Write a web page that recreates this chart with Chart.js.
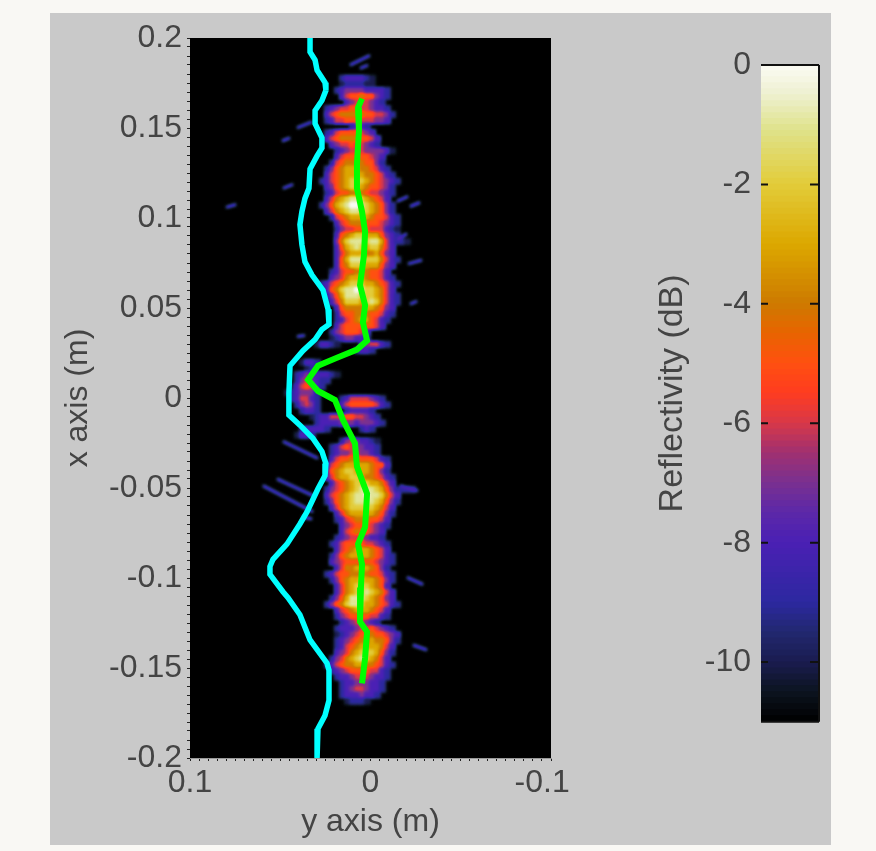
<!DOCTYPE html>
<html><head><meta charset="utf-8">
<script src="https://cdn.jsdelivr.net/npm/chart.js@4"></script>
<style>
html,body{margin:0;padding:0;width:876px;height:851px;overflow:hidden;background:#f9f8f4}
#panel{position:absolute;left:50px;top:13px;width:781px;height:832px;background:#c9c9c9}
#mainWrap{position:absolute;left:50px;top:13px;width:560px;height:832px}
#barWrap{position:absolute;left:640px;top:33px;width:191px;height:710px}
canvas{filter:blur(0.5px)}
</style></head><body>
<div id="panel"></div>
<div id="mainWrap"><canvas id="main"></canvas></div>
<div id="barWrap"><canvas id="bar"></canvas></div>
<script>
const xTickLabels=[0.1,0,-0.1];
const yTickLabels=[0.2,0.15,0.1,0.05,0,-0.05,-0.1,-0.15,-0.2];
const colorTicks=[0,-2,-4,-6,-8,-10];
const cyanX=[.0335,.0335,.0307,.0296,.0252,.0247,.0269,.0307,.0307,.0269,.0269,.0296,.0335,.0341,.0363,.0380,.0391,.0380,.0363,.0324,.0263,.0235,.0230,.0269,.0307,.0374,.0446,.0452,.0452,.0391,.0319,.0269,.0247,.0252,.0291,.0352,.0391,.0463,.0540,.0557,.0557,.0485,.0457,.0391,.0335,.0241,.0230,.0230,.0252,.0291,.0296];
const cyanY=[.2,.1922,.1877,.1821,.1753,.1709,.1653,.1597,.1524,.1445,.1389,.1345,.1272,.1165,.1109,.1036,.0964,.0852,.0756,.0683,.0599,.0493,.0409,.0381,.0325,.0263,.0179,.0028,-.0095,-.0151,-.0224,-.0297,-.0364,-.0431,-.0504,-.0633,-.0700,-.0812,-.0896,-.0936,-.0980,-.1076,-.1109,-.1204,-.1344,-.1473,-.1512,-.1680,-.1764,-.1837,-.2];
const greenX=[.0047,.0069,.0064,.0075,.0075,.0047,.0030,.0036,.0058,.0030,.0042,.0019,.0075,.0186,.0291,.0346,.0291,.0197,.0152,.0086,.0075,.0019,.0030,.0069,.0047,.0053,.0058,.0019,.0030,.0047];
const greenY=[.1663,.1613,.1484,.1300,.1165,.1036,.0924,.0795,.0627,.0515,.0420,.0319,.0269,.0224,.0179,.0101,.0039,-.0011,-.0123,-.0252,-.0381,-.0532,-.0717,-.0812,-.0924,-.1053,-.1243,-.1299,-.1445,-.1585];
const streakX=[.0114,.0003,null,.0058,.0014,null,.0407,.0324,null,.0490,.0446,null,.0485,.0429,null,-.0147,-.0208,null,-.0219,-.0274,null,-.0147,-.0202,null,-.0208,-.0285,null,-.0219,-.0258,null,.0407,.0363,null,.0485,.0291,null,.0518,.0319,null,.0596,.0319,null,.0380,.0324,null,-.0163,-.0263,null,-.0202,-.0291,null,-.0235,-.0313,null,.0800,.0745];
const streakY=[.1849,.1904,null,.1831,.1849,null,.1501,.1534,null,.1428,.1445,null,.1165,.1187,null,.1092,.1120,null,.1064,.1086,null,.0879,.0913,null,.0745,.0767,null,.0521,.0538,null,.0342,.0347,null,-.0241,-.0336,null,-.0449,-.0543,null,-.0487,-.0633,null,-.0661,-.0672,null,-.0487,-.0515,null,-.0997,-.1036,null,-.1372,-.1400,null,.1059,.1075];
// reflectivity: one string per row, one character per column
// '.' = below scale, 1..9,a,b = -10 .. 0 dB
const heatRowTop=0.17759, heatRowStep=0.00336, heatColLeft=0.04598, heatColStep=0.00277;
const streakDb=-7.5;
const heatRows=[
"...........2333321",
"...........1222211",
"..........23444433332",
"...........3566766432",
"............34555432",
"........2345566554332",
"........35677777665542",
"........2355666555443",
".............2332",
"........2356666543",
"........35677776653",
".........3455655432",
"..........234555444431",
"..........3566666543",
".........25677776642",
"........2467888776532",
"........35678888776532",
".......2356789998765432",
"........34678998766542",
"........23566777655432",
"........35789aa987653",
".......24689abba987642",
"........35789aa9987642",
".........25678888766532",
"..........3567776665432",
"..........2455666555321",
"..........3678998886432",
"..........479aaa9aa853221",
"..........3689a9899753",
"..........357888778643",
"..........368aaa9997532",
"..........367999888643",
".........235667776653",
".........3457888766532",
".......2356789998876532",
"........3679aaba998753",
"........2468aaa99987532",
".........35799989a97532",
"..........367777887643",
"..........256677766532",
"..........23567886532",
"..........3566666653",
".........24566653",
".........12344332",
"......13321....345532",
"..............2332",
"",
"...1332",
"....12",
"..234333321",
"..2454322",
".1356532",
"1234442",
".235532....235555432",
"..24542....3566666532",
"...2332.....233332",
".....12335556655432",
"......23333444344432",
"...233332......232",
"..1332",
"...........24543321",
".........2356544332",
".........2344554432",
".........356677666532",
"........2567888887663",
"........3678998887642",
"........35788998776532",
".........3567899988753",
"........2456789aaa98642222",
"........356789aabaa9753",
"........246789aaaa98642",
".........3578999998753",
"..........357888887642",
"..........23567776653",
"...........3456665432",
"...........356776543",
"..........2345554332",
".........235666655432",
"..........35678887653",
".........2467888876532",
".........3456666665432",
"..........35778887642",
"........23566777766532",
".........2467889887642",
"..........35789998763",
"..........357899a98753",
".........2468aaa987643",
"........24679aa98876532",
"..........35678887653",
"..........24566665532",
"...........23455432",
"..........233345565432",
"..........1234566766543",
"..........2345677877642",
"..........235678888753",
"..........345789998642",
".........245789a98753",
"........23567788776532",
".........234566665532",
"..........23345554332",
"...........233444332",
"...........234554332",
"...........23334332",
"............12221"
];
const cmapDb=[-11,-10.5,-10,-9.5,-9,-8,-7.5,-7,-6.5,-6,-5.5,-5,-4.5,-4,-3,-2,-1.1,-0.5,0];
const cmapRgb=[[0,0,0],[12,20,32],[26,28,80],[34,40,112],[44,40,160],[74,32,180],[92,40,168],[122,48,144],[160,48,112],[216,56,72],[255,60,32],[255,80,16],[232,100,0],[205,122,0],[220,168,0],[226,204,58],[223,226,138],[238,240,208],[251,251,245]];
function dbRgb(v){
  let i=0; while(i<cmapDb.length-2&&v>cmapDb[i+1])i++;
  const t=(v-cmapDb[i])/(cmapDb[i+1]-cmapDb[i]);
  return cmapRgb[i].map((a,k)=>Math.round(a+(cmapRgb[i+1][k]-a)*t));
}
function dbColor(v){const c=dbRgb(v);return `rgb(${c[0]},${c[1]},${c[2]})`;}
// the heat cells are painted as grey value codes, smoothed, then looked up in the colour map
function dbGray(v){const g=Math.round((v+11)/11*255);return `rgb(${g},${g},${g})`;}
const lut=[];for(let i=0;i<256;i++)lut.push(dbRgb(-11+i/255*11));
const heatPts=[],heatCols=[];
heatRows.forEach((row,r)=>{[...row].forEach((ch,c)=>{
  if(ch==='.')return;
  const db=parseInt(ch,12)-11;
  heatPts.push({x:heatColLeft-c*heatColStep,y:heatRowTop-r*heatRowStep});
  heatCols.push(dbGray(db));
});});
const zip=(a,b)=>a.map((v,i)=>({x:v,y:b[i]}));
const font={family:"'Liberation Sans',Arial,sans-serif",size:32};
const titleFont={family:"'Liberation Sans',Arial,sans-serif",size:32};
const ink='#444444';
const near=(a,b)=>Math.abs(a-b)<1e-6;

let off=null,offCtx=null;
const plotDecor={id:'plotDecor',
  beforeDatasetsDraw(c){
    const a=c.chartArea,g=c.ctx;g.save();g.fillStyle='#000';g.fillRect(a.left,a.top,a.width,a.height);g.restore();
    off=document.createElement('canvas');off.width=c.width;off.height=c.height;
    offCtx=off.getContext('2d',{willReadFrequently:true});
    offCtx.fillStyle='#000';offCtx.fillRect(0,0,off.width,off.height);
  },
  beforeDatasetDraw(c,args){if(args.index<=1){args.meta.controller._ctx=offCtx;}},
  afterDatasetDraw(c,args){
    if(args.index>1)return;
    args.meta.controller._ctx=c.ctx;
    if(args.index!==1)return;
    const a=c.chartArea,w=Math.ceil(a.width),h=Math.ceil(a.height);
    const tmp=document.createElement('canvas');tmp.width=w;tmp.height=h;
    const t=tmp.getContext('2d',{willReadFrequently:true});
    t.filter='blur(1.4px)';
    t.drawImage(off,-a.left,-a.top);
    t.filter='none';
    const img=t.getImageData(0,0,w,h),d=img.data;
    for(let i=0;i<d.length;i+=4){const col=lut[d[i]];d[i]=col[0];d[i+1]=col[1];d[i+2]=col[2];d[i+3]=255;}
    t.putImageData(img,0,0);
    c.ctx.drawImage(tmp,a.left,a.top);
  }
};
new Chart(document.getElementById('main'),{
  type:'scatter',
  data:{datasets:[
    {label:'reflectivity',data:heatPts,pointStyle:'rect',pointRadius:4.8,pointHoverRadius:4.8,pointBackgroundColor:heatCols,pointBorderWidth:0,showLine:false,order:4},
    {label:'streaks',data:zip(streakX,streakY),showLine:true,spanGaps:false,borderColor:dbGray(streakDb),borderWidth:2.5,pointRadius:0,order:3},
    {label:'cyan',data:zip(cyanX,cyanY),showLine:true,borderColor:'#00ffff',borderWidth:5.5,pointRadius:0,tension:0,order:2},
    {label:'green',data:zip(greenX,greenY),showLine:true,borderColor:'#00ff00',borderWidth:6,pointRadius:0,tension:0,order:1}
  ]},
  options:{responsive:true,maintainAspectRatio:false,animation:false,
    layout:{padding:{left:0,top:25,right:59,bottom:0}},
    plugins:{legend:{display:false},tooltip:{enabled:false}},
    scales:{
      x:{type:'linear',reverse:true,min:-0.1,max:0.1,
        afterFit(s){s.height=87;},
        grid:{drawOnChartArea:false,color:'#222',tickColor:'#222',tickLength:3,lineWidth:1},
        border:{color:'#999'},
        ticks:{stepSize:0.005,autoSkip:false,maxRotation:0,padding:3,color:ink,font,
          callback(v){const m=xTickLabels.find(t=>near(t,v));if(m===undefined)return '';return m<0?String(m)+'  ':String(m);}},
        title:{display:true,text:'y axis (m)',color:ink,font:titleFont,padding:{top:0,bottom:4}}
      },
      y:{type:'linear',min:-0.2,max:0.2,
        afterFit(s){s.width=140;},
        grid:{drawOnChartArea:false,color:'#222',tickColor:'#222',tickLength:3,lineWidth:1},
        border:{color:'#999'},
        ticks:{stepSize:0.005,autoSkip:false,padding:5,color:ink,font,
          callback(v){const m=yTickLabels.find(t=>near(t,v));return m===undefined?'':String(m);}},
        title:{display:true,text:'x axis (m)',color:ink,font:titleFont,padding:{top:9,bottom:0}}
      }
    }
  },
  plugins:[plotDecor]
});

// colour bar
const bandDb=[];for(let k=0;k<110;k++)bandDb.push(-11+k*0.1);
const barDecor={id:'barDecor',afterDatasetsDraw(c){
  const a=c.chartArea,g=c.ctx,s=c.scales.y;g.save();
  g.strokeStyle='#111';g.lineWidth=2;
  g.beginPath();g.moveTo(a.left,a.top);g.lineTo(a.right,a.top);g.moveTo(a.right,a.top);g.lineTo(a.right,a.bottom);g.moveTo(a.left,a.bottom);g.lineTo(a.right,a.bottom);g.stroke();
  colorTicks.forEach(v=>{const y=s.getPixelForValue(v);g.beginPath();g.moveTo(a.left,y);g.lineTo(a.left+7,y);g.moveTo(a.right-9,y);g.lineTo(a.right,y);g.stroke();});
  g.restore();}};
new Chart(document.getElementById('bar'),{
  type:'bar',
  data:{labels:['dB'],datasets:bandDb.map(d=>({data:[[d-0.005,d+0.105]],backgroundColor:dbColor(d+0.05),borderWidth:0,barPercentage:1,categoryPercentage:1,grouped:false}))},
  options:{responsive:true,maintainAspectRatio:false,animation:false,
    layout:{padding:{left:0,top:32,right:12,bottom:18}},
    plugins:{legend:{display:false},tooltip:{enabled:false}},
    scales:{
      x:{display:false,grid:{display:false}},
      y:{min:-11,max:0,afterBuildTicks(s){s.ticks=colorTicks.map(v=>({value:v}));},
        afterFit(s){s.width=121;},
        grid:{display:false},border:{display:false},
        ticks:{padding:2,color:ink,font,autoSkip:false},
        title:{display:true,text:'Reflectivity (dB)',color:ink,font:{family:font.family,size:34},padding:{top:12,bottom:0}}
      }
    }
  },
  plugins:[barDecor]
});
</script>
</body></html>
